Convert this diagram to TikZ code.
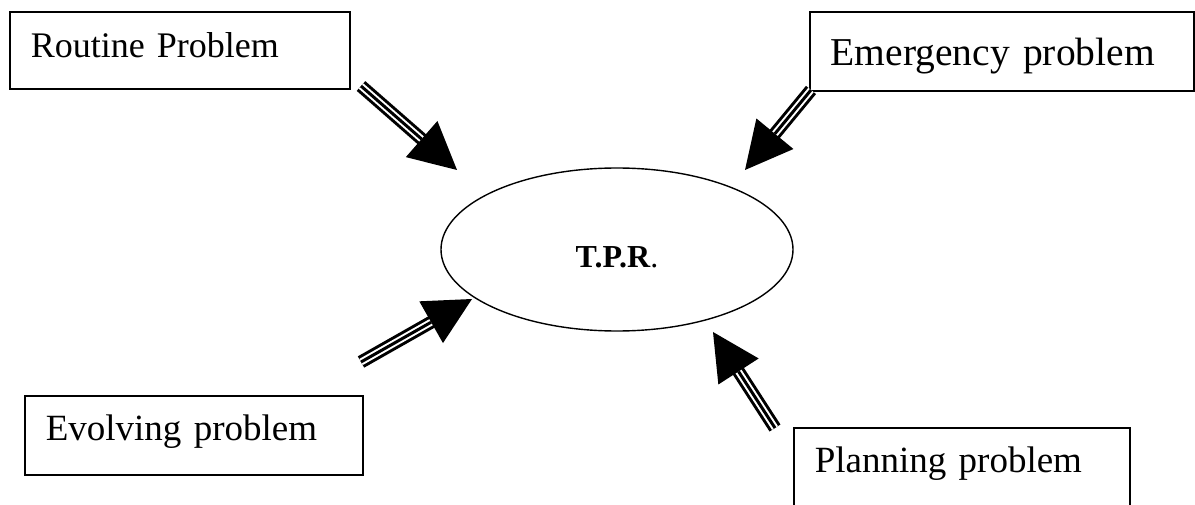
\documentclass[tikz,border=0pt]{standalone}
\usepackage{fontspec}
\setmainfont{Liberation Serif}
\usetikzlibrary{arrows.meta,shapes.geometric}
\tikzset{
  probbox/.style={draw, line width=1.6pt, rectangle, anchor=north west, inner ysep=0pt, inner xsep=21pt, align=left},
  shaftouter/.style={line width=13pt, line cap=butt, shorten >=38pt},
  shaftgap/.style={line width=7pt, white, line cap=butt, shorten >=36pt},
  shaftcore/.style={line width=3pt, line cap=butt, -{Triangle[length=47pt,width=48pt,line width=0pt]}}
}
\newcommand{\tripleArrow}[2]{%
  \draw[shaftouter] (#1) -- (#2);
  \draw[shaftgap] (#1) -- (#2);
  \draw[shaftcore] (#1) -- (#2);
}
\begin{document}
\begin{tikzpicture}[x=1pt,y=-1pt]
\useasboundingbox (0,0) rectangle (1195,505);
\fill[white] (0,0) rectangle (1195,505);

\node[probbox, text width=298pt, text height=46pt, text depth=31pt, font=\fontsize{36}{40}\selectfont] (routine) at (9,11) {Routine Problem};
\node[probbox, text width=342pt, text height=54pt, text depth=25pt, font=\fontsize{39.5}{44}\selectfont] (emergency) at (809,11) {Emergency problem};
\node[probbox, text width=296pt, text height=45pt, text depth=34pt, font=\fontsize{37}{41}\selectfont] (evolving) at (24,395) {Evolving problem};
\node[probbox, text width=294pt, text height=45pt, text depth=43pt, font=\fontsize{37}{41}\selectfont] (planning) at (793,427) {Planning problem};

\node[draw, ellipse, line width=1.4pt, minimum width=352pt, minimum height=163pt, inner sep=0pt, text height=37pt, text depth=0pt, font=\fontsize{32}{36}\selectfont] (tpr) at (617,249.5) {\textbf{T.P.R}.};

\coordinate (rt) at (361,86);   \coordinate (rh) at (457,170);
\coordinate (et) at (811,90);   \coordinate (eh) at (745,170);
\coordinate (vt) at (361,362);  \coordinate (vh) at (472,299);
\coordinate (pt) at (775,428);  \coordinate (ph) at (713,332);

\tripleArrow{rt}{rh}
\tripleArrow{et}{eh}
\tripleArrow{vt}{vh}
\tripleArrow{pt}{ph}
\end{tikzpicture}
\end{document}
